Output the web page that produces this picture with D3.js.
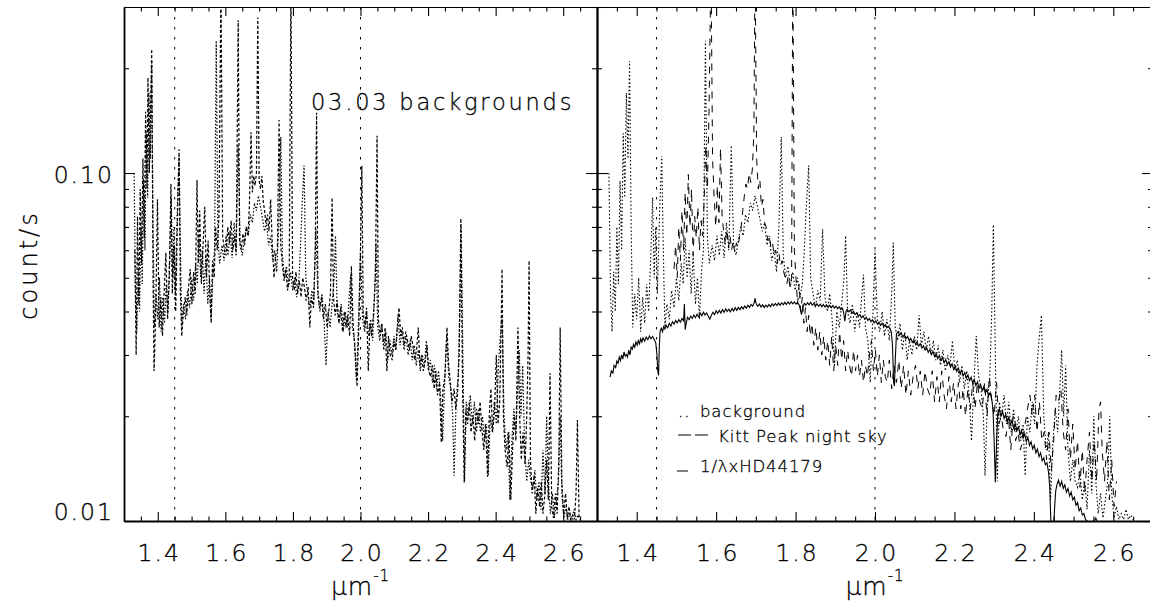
<!DOCTYPE html>
<html><head><meta charset="utf-8">
<script src="https://cdn.jsdelivr.net/npm/d3@7"></script>
<style>
html,body{margin:0;padding:0;background:#fff;overflow:hidden}
svg{display:block}
text{font-family:"DejaVu Sans",sans-serif;font-weight:200;fill:#000;stroke:#000;stroke-width:0.3px}
</style></head><body><svg id="c" width="1150" height="605"></svg>
<script>
// ---- data (wavenumber in µm^-1, count/s) ----
const background = [
[1.330,0.100],[1.334,0.045],[1.338,0.035],[1.342,0.052],[1.346,0.040],[1.350,0.070],[1.354,0.048],[1.358,0.095],[1.362,0.060],[1.366,0.130],
[1.370,0.085],[1.374,0.170],[1.378,0.110],[1.382,0.210],[1.386,0.070],[1.390,0.036],[1.395,0.045],[1.400,0.038],[1.405,0.050],[1.410,0.035],
[1.415,0.044],[1.420,0.037],[1.425,0.048],[1.430,0.040],[1.436,0.060],[1.440,0.085],[1.444,0.050],[1.448,0.070],[1.452,0.045],[1.458,0.080],
[1.463,0.112],[1.467,0.060],[1.471,0.036],[1.476,0.042],[1.482,0.038],[1.488,0.046],[1.494,0.041],[1.500,0.050],[1.506,0.043],[1.512,0.055],
[1.517,0.048],[1.522,0.065],[1.527,0.050],[1.532,0.060],[1.537,0.045],[1.542,0.058],[1.548,0.042],[1.553,0.050],[1.558,0.038],[1.563,0.052],
[1.568,0.060],[1.573,0.240],[1.578,0.065],[1.583,0.055],[1.590,0.062],[1.596,0.056],[1.602,0.066],[1.608,0.058],[1.614,0.068],[1.620,0.057],
[1.626,0.072],[1.632,0.060],[1.638,0.120],[1.644,0.062],[1.650,0.058],[1.656,0.064],[1.662,0.070],[1.668,0.066],[1.674,0.076],[1.680,0.072],
[1.686,0.082],[1.692,0.078],[1.698,0.086],[1.704,0.080],[1.710,0.074],[1.716,0.068],[1.722,0.072],[1.728,0.062],[1.734,0.066],[1.740,0.056],
[1.746,0.060],[1.752,0.052],[1.758,0.070],[1.764,0.127],[1.769,0.058],[1.775,0.050],[1.781,0.054],[1.787,0.047],[1.793,0.052],[1.799,0.046],
[1.805,0.050],[1.811,0.044],[1.817,0.048],[1.822,0.060],[1.827,0.080],[1.833,0.105],[1.838,0.050],[1.844,0.045],[1.850,0.041],[1.856,0.046],
[1.862,0.043],[1.868,0.069],[1.874,0.044],[1.880,0.040],[1.886,0.045],[1.892,0.038],[1.898,0.028],[1.904,0.040],[1.910,0.036],[1.916,0.042],
[1.922,0.050],[1.926,0.066],[1.931,0.040],[1.937,0.037],[1.943,0.042],[1.949,0.035],[1.955,0.040],[1.961,0.036],[1.967,0.045],[1.971,0.051],
[1.976,0.036],[1.982,0.033],[1.988,0.025],[1.994,0.037],[2.000,0.060],[2.006,0.038],[2.012,0.035],[2.018,0.040],[2.024,0.034],[2.030,0.038],
[2.036,0.033],[2.042,0.045],[2.046,0.063],[2.051,0.036],[2.057,0.033],[2.063,0.037],[2.069,0.031],[2.075,0.035],[2.081,0.029],[2.087,0.033],
[2.093,0.030],[2.099,0.034],[2.105,0.031],[2.111,0.039],[2.117,0.032],[2.123,0.035],[2.129,0.031],[2.135,0.034],[2.141,0.030],[2.147,0.033],
[2.153,0.029],[2.159,0.032],[2.165,0.028],[2.171,0.031],[2.177,0.027],[2.183,0.030],[2.189,0.028],[2.195,0.033],[2.201,0.027],[2.207,0.029],
[2.213,0.025],[2.219,0.028],[2.225,0.024],[2.231,0.027],[2.237,0.023],[2.243,0.017],[2.249,0.025],[2.255,0.034],[2.261,0.026],[2.267,0.024],
[2.273,0.020],[2.277,0.0135],[2.283,0.022],[2.289,0.026],[2.294,0.040],[2.298,0.071],[2.303,0.030],[2.308,0.013],[2.313,0.022],[2.319,0.020],
[2.325,0.023],[2.331,0.019],[2.337,0.022],[2.343,0.018],[2.349,0.021],[2.355,0.018],[2.361,0.020],[2.367,0.017],[2.373,0.019],[2.378,0.0135],
[2.384,0.020],[2.390,0.018],[2.396,0.022],[2.402,0.019],[2.408,0.028],[2.413,0.033],[2.419,0.039],[2.425,0.020],[2.431,0.016],[2.437,0.018],
[2.442,0.0115],[2.448,0.017],[2.454,0.021],[2.460,0.018],[2.466,0.025],[2.470,0.031],[2.475,0.020],[2.480,0.028],[2.486,0.016],[2.492,0.013],
[2.498,0.015],[2.504,0.013],[2.510,0.0125],[2.516,0.014],[2.522,0.0115],[2.528,0.013],[2.534,0.0108],[2.540,0.016],[2.546,0.012],[2.551,0.020],
[2.556,0.013],[2.562,0.0105],[2.568,0.012],[2.574,0.0102],[2.580,0.0115],[2.586,0.013],[2.591,0.020],[2.596,0.012],[2.602,0.0102],[2.608,0.011],
[2.614,0.0101],[2.620,0.0105],[2.626,0.0101],[2.632,0.0108],[2.638,0.0101],[2.644,0.0104],[2.650,0.0101]
];
const background2 = [
[1.332,0.060],[1.336,0.030],[1.340,0.075],[1.344,0.042],[1.348,0.090],[1.352,0.055],[1.356,0.110],[1.360,0.065],[1.364,0.150],[1.368,0.090],
[1.371,0.188],[1.375,0.100],[1.379,0.160],[1.382,0.227],[1.386,0.050],[1.389,0.027],[1.394,0.040],[1.399,0.084],[1.404,0.036],[1.409,0.044],
[1.414,0.034],[1.419,0.046],[1.424,0.059],[1.429,0.038],[1.434,0.050],[1.439,0.093],[1.443,0.045],[1.448,0.062],[1.453,0.040],[1.458,0.072],
[1.463,0.117],[1.467,0.045],[1.471,0.034],[1.476,0.040],[1.481,0.044],[1.486,0.039],[1.491,0.047],[1.496,0.053],[1.501,0.042],[1.506,0.052],
[1.511,0.045],[1.516,0.0955],[1.520,0.055],[1.524,0.078],[1.529,0.048],[1.534,0.062],[1.539,0.080],[1.544,0.050],[1.549,0.064],[1.554,0.045],
[1.558,0.037],[1.562,0.056],[1.567,0.050],[1.571,0.070],[1.576,0.060],[1.581,0.075],[1.587,0.350],[1.592,0.066],[1.597,0.060],[1.602,0.058],
[1.607,0.070],[1.612,0.063],[1.617,0.073],[1.622,0.060],[1.627,0.066],[1.632,0.058],[1.638,0.275],[1.642,0.064],[1.647,0.060],[1.652,0.067],
[1.657,0.062],[1.662,0.070],[1.667,0.066],[1.671,0.080],[1.676,0.131],[1.680,0.088],[1.684,0.098],[1.688,0.092],[1.692,0.100],[1.696,0.280],
[1.700,0.095],[1.704,0.090],[1.708,0.098],[1.712,0.083],[1.716,0.078],[1.720,0.072],[1.725,0.076],[1.729,0.068],[1.734,0.084],[1.739,0.062],
[1.744,0.050],[1.749,0.058],[1.754,0.060],[1.759,0.142],[1.764,0.062],[1.769,0.054],[1.774,0.049],[1.779,0.053],[1.784,0.046],[1.789,0.050],
[1.794,0.350],[1.799,0.050],[1.804,0.046],[1.809,0.052],[1.814,0.045],[1.819,0.049],[1.824,0.044],[1.829,0.050],[1.834,0.047],[1.839,0.043],
[1.845,0.047],[1.850,0.036],[1.855,0.044],[1.861,0.041],[1.866,0.060],[1.870,0.149],[1.874,0.046],[1.879,0.041],[1.885,0.044],[1.890,0.038],
[1.896,0.042],[1.901,0.036],[1.906,0.040],[1.911,0.045],[1.916,0.085],[1.920,0.044],[1.925,0.039],[1.931,0.043],[1.936,0.037],[1.941,0.041],
[1.947,0.035],[1.952,0.040],[1.957,0.036],[1.962,0.039],[1.968,0.034],[1.973,0.054],[1.978,0.037],[1.983,0.032],[1.990,0.0243],[1.995,0.036],
[2.000,0.060],[2.004,0.105],[2.008,0.040],[2.013,0.036],[2.018,0.041],[2.023,0.027],[2.028,0.037],[2.033,0.034],[2.038,0.039],[2.044,0.050],
[2.049,0.128],[2.053,0.038],[2.058,0.034],[2.063,0.037],[2.068,0.032],[2.073,0.036],[2.078,0.027],[2.083,0.034],[2.088,0.030],[2.094,0.029],
[2.099,0.033],[2.104,0.031],[2.109,0.036],[2.114,0.041],[2.119,0.034],[2.124,0.036],[2.129,0.032],[2.134,0.035],[2.139,0.033],[2.145,0.031],
[2.150,0.034],[2.155,0.032],[2.160,0.029],[2.166,0.031],[2.171,0.036],[2.176,0.028],[2.181,0.030],[2.186,0.027],[2.192,0.029],[2.197,0.032],
[2.202,0.027],[2.207,0.026],[2.213,0.028],[2.218,0.024],[2.223,0.027],[2.228,0.023],[2.234,0.025],[2.239,0.0168],[2.244,0.024],[2.250,0.026],
[2.256,0.036],[2.261,0.028],[2.266,0.025],[2.271,0.022],[2.277,0.024],[2.282,0.021],[2.287,0.023],[2.292,0.030],[2.297,0.074],[2.302,0.025],
[2.307,0.0129],[2.312,0.021],[2.317,0.019],[2.322,0.022],[2.327,0.018],[2.333,0.020],[2.338,0.017],[2.343,0.021],[2.349,0.019],[2.354,0.022],
[2.360,0.018],[2.365,0.016],[2.370,0.019],[2.376,0.0134],[2.381,0.020],[2.386,0.024],[2.391,0.018],[2.397,0.021],[2.402,0.030],[2.407,0.019],
[2.412,0.022],[2.416,0.035],[2.419,0.053],[2.423,0.020],[2.428,0.016],[2.434,0.0143],[2.439,0.018],[2.445,0.0115],[2.450,0.016],[2.455,0.020],
[2.460,0.017],[2.466,0.036],[2.471,0.020],[2.476,0.015],[2.481,0.018],[2.487,0.0145],[2.492,0.020],[2.496,0.030],[2.499,0.056],[2.503,0.015],
[2.508,0.012],[2.514,0.0135],[2.519,0.0105],[2.524,0.0125],[2.530,0.011],[2.535,0.013],[2.540,0.0105],[2.546,0.012],[2.551,0.015],[2.556,0.0115],
[2.561,0.0266],[2.566,0.011],[2.571,0.0102],[2.577,0.012],[2.582,0.0105],[2.587,0.015],[2.591,0.036],[2.596,0.013],[2.601,0.0105],[2.607,0.012],
[2.612,0.0101],[2.617,0.011],[2.622,0.0101],[2.628,0.0104],[2.633,0.0101],[2.638,0.012],[2.642,0.0195],[2.647,0.0102],[2.652,0.0101]
];
const kittPeak = [
[1.494,0.053],[1.498,0.062],[1.502,0.050],[1.506,0.070],[1.510,0.056],[1.514,0.078],[1.518,0.060],[1.522,0.088],[1.526,0.066],[1.530,0.099],
[1.534,0.070],[1.538,0.090],[1.542,0.058],[1.546,0.075],[1.550,0.065],[1.554,0.080],[1.558,0.060],[1.562,0.073],[1.566,0.066],[1.570,0.085],
[1.574,0.120],[1.578,0.090],[1.582,0.150],[1.587,0.400],[1.591,0.110],[1.595,0.085],[1.599,0.070],[1.603,0.092],[1.607,0.072],[1.611,0.118],
[1.615,0.075],[1.619,0.068],[1.623,0.062],[1.627,0.069],[1.631,0.061],[1.635,0.066],[1.639,0.060],[1.643,0.064],[1.647,0.059],[1.651,0.063],
[1.655,0.061],[1.659,0.066],[1.663,0.070],[1.667,0.078],[1.671,0.086],[1.675,0.093],[1.679,0.090],[1.683,0.100],[1.687,0.094],[1.691,0.102],
[1.695,0.130],[1.698,0.400],[1.702,0.110],[1.706,0.090],[1.710,0.096],[1.714,0.080],[1.718,0.084],[1.722,0.072],[1.726,0.070],[1.730,0.064],
[1.734,0.066],[1.738,0.061],[1.742,0.063],[1.746,0.058],[1.750,0.060],[1.754,0.055],[1.758,0.059],[1.762,0.054],[1.766,0.056],[1.770,0.052],
[1.774,0.050],[1.778,0.048],[1.782,0.051],[1.786,0.047],[1.790,0.050],[1.793,0.400],[1.797,0.060],[1.801,0.050],[1.805,0.042],[1.809,0.048],
[1.813,0.040],[1.817,0.044],[1.821,0.037],[1.825,0.041],[1.829,0.035],[1.833,0.039],[1.837,0.034],[1.841,0.037],[1.846,0.032],[1.851,0.036],
[1.856,0.031],[1.861,0.035],[1.866,0.030],[1.871,0.034],[1.876,0.029],[1.881,0.033],[1.886,0.028],[1.891,0.034],[1.896,0.027],[1.901,0.032],
[1.906,0.028],[1.911,0.035],[1.916,0.029],[1.921,0.033],[1.926,0.027],[1.931,0.031],[1.936,0.028],[1.941,0.026],[1.946,0.031],[1.951,0.027],
[1.956,0.030],[1.961,0.026],[1.966,0.029],[1.971,0.025],[1.976,0.028],[1.981,0.026],[1.986,0.030],[1.991,0.033],[1.996,0.027],[2.001,0.031],
[2.006,0.026],[2.011,0.030],[2.016,0.025],[2.021,0.029],[2.026,0.026],[2.031,0.025],[2.036,0.029],[2.042,0.024],[2.048,0.028],[2.054,0.025],
[2.060,0.029],[2.066,0.024],[2.072,0.028],[2.078,0.023],[2.084,0.027],[2.090,0.023],[2.096,0.026],[2.102,0.028],[2.108,0.024],[2.114,0.027],
[2.120,0.023],[2.126,0.027],[2.132,0.024],[2.138,0.023],[2.144,0.027],[2.150,0.022],[2.156,0.026],[2.162,0.022],[2.168,0.027],[2.174,0.023],
[2.180,0.021],[2.186,0.026],[2.192,0.022],[2.198,0.025],[2.204,0.021],[2.210,0.025],[2.216,0.021],[2.222,0.024],[2.228,0.020],[2.234,0.024],
[2.240,0.021],[2.246,0.025],[2.252,0.021],[2.258,0.025],[2.264,0.022],[2.270,0.021],[2.276,0.025],[2.282,0.020],[2.288,0.026],[2.294,0.022],
[2.300,0.020],[2.306,0.025],[2.312,0.019],[2.318,0.020],[2.324,0.018],[2.330,0.0175],[2.336,0.020],[2.342,0.016],[2.348,0.020],[2.354,0.017],
[2.360,0.018],[2.366,0.016],[2.372,0.017],[2.378,0.019],[2.384,0.021],[2.390,0.023],[2.396,0.020],[2.402,0.023],[2.408,0.018],[2.414,0.022],
[2.420,0.017],[2.426,0.018],[2.432,0.015],[2.438,0.018],[2.444,0.014],[2.450,0.017],[2.456,0.023],[2.462,0.022],[2.468,0.024],[2.474,0.018],
[2.480,0.016],[2.486,0.021],[2.492,0.015],[2.498,0.019],[2.504,0.014],[2.510,0.017],[2.516,0.0125],[2.522,0.016],[2.528,0.012],[2.534,0.015],
[2.540,0.018],[2.546,0.013],[2.552,0.017],[2.558,0.013],[2.564,0.021],[2.568,0.022],[2.572,0.016],[2.578,0.013],[2.584,0.017],[2.590,0.0115],
[2.596,0.015],[2.602,0.011],[2.608,0.013]
];
const hd44179 = [
[1.333,0.0259],[1.336,0.0270],[1.340,0.0266],[1.343,0.0280],[1.347,0.0276],[1.350,0.0288],[1.353,0.0284],[1.356,0.0296],[1.359,0.0289],[1.362,0.0300],
[1.365,0.0292],[1.368,0.0306],[1.371,0.0298],[1.374,0.0301],[1.377,0.0296],[1.380,0.0310],[1.383,0.0300],[1.386,0.0316],[1.389,0.0312],[1.392,0.0322],
[1.395,0.0316],[1.398,0.0327],[1.401,0.0320],[1.404,0.0330],[1.407,0.0323],[1.410,0.0334],[1.413,0.0327],[1.416,0.0336],[1.420,0.0329],[1.424,0.0338],
[1.428,0.0332],[1.432,0.0340],[1.436,0.0334],[1.440,0.0339],[1.444,0.0333],[1.448,0.0325],[1.451,0.0300],[1.453,0.0270],[1.455,0.0262],[1.457,0.0320],
[1.459,0.0352],[1.462,0.0358],[1.465,0.0350],[1.468,0.0362],[1.471,0.0356],[1.474,0.0365],[1.478,0.0359],[1.482,0.0370],[1.486,0.0363],[1.490,0.0374],
[1.494,0.0368],[1.498,0.0377],[1.502,0.0371],[1.506,0.0379],[1.510,0.0373],[1.514,0.0382],[1.518,0.0376],[1.520,0.0420],[1.522,0.0355],[1.525,0.0372],
[1.528,0.0385],[1.532,0.0379],[1.536,0.0388],[1.540,0.0382],[1.544,0.0391],[1.548,0.0384],[1.552,0.0393],[1.556,0.0386],[1.560,0.0396],[1.564,0.0389],
[1.568,0.0398],[1.572,0.0391],[1.576,0.0396],[1.580,0.0388],[1.584,0.0380],[1.588,0.0390],[1.592,0.0398],[1.596,0.0392],[1.600,0.0402],[1.604,0.0395],
[1.608,0.0403],[1.612,0.0396],[1.616,0.0405],[1.620,0.0398],[1.624,0.0407],[1.628,0.0400],[1.632,0.0406],[1.636,0.0399],[1.640,0.0408],[1.644,0.0401],
[1.648,0.0410],[1.652,0.0403],[1.656,0.0411],[1.660,0.0405],[1.664,0.0413],[1.668,0.0407],[1.672,0.0415],[1.676,0.0409],[1.680,0.0417],[1.684,0.0411],
[1.688,0.0419],[1.692,0.0414],[1.696,0.0425],[1.698,0.0436],[1.701,0.0420],[1.705,0.0414],[1.709,0.0420],[1.713,0.0412],[1.717,0.0418],[1.721,0.0411],
[1.725,0.0417],[1.729,0.0412],[1.733,0.0419],[1.737,0.0413],[1.741,0.0421],[1.745,0.0415],[1.749,0.0422],[1.753,0.0416],[1.757,0.0423],[1.761,0.0417],
[1.765,0.0424],[1.769,0.0418],[1.773,0.0425],[1.777,0.0419],[1.781,0.0426],[1.785,0.0420],[1.789,0.0427],[1.793,0.0421],[1.797,0.0426],[1.801,0.0420],
[1.805,0.0425],[1.809,0.0418],[1.812,0.0405],[1.815,0.0392],[1.818,0.0410],[1.822,0.0422],[1.826,0.0417],[1.830,0.0424],[1.834,0.0418],[1.838,0.0425],
[1.842,0.0417],[1.846,0.0422],[1.850,0.0415],[1.854,0.0421],[1.858,0.0414],[1.862,0.0420],[1.866,0.0413],[1.870,0.0419],[1.874,0.0412],[1.878,0.0418],
[1.882,0.0411],[1.886,0.0417],[1.890,0.0410],[1.894,0.0416],[1.898,0.0409],[1.902,0.0414],[1.906,0.0407],[1.910,0.0413],[1.914,0.0405],[1.918,0.0409],
[1.921,0.0398],[1.924,0.0375],[1.927,0.0400],[1.930,0.0406],[1.934,0.0399],[1.938,0.0404],[1.942,0.0396],[1.946,0.0400],[1.950,0.0392],[1.954,0.0396],
[1.958,0.0388],[1.962,0.0392],[1.966,0.0384],[1.970,0.0389],[1.974,0.0380],[1.978,0.0385],[1.982,0.0377],[1.986,0.0382],[1.990,0.0374],[1.994,0.0379],
[1.998,0.0371],[2.002,0.0376],[2.006,0.0368],[2.010,0.0373],[2.014,0.0365],[2.018,0.0370],[2.022,0.0362],[2.026,0.0367],[2.030,0.0359],[2.034,0.0363],
[2.038,0.0356],[2.041,0.0350],[2.044,0.0320],[2.047,0.0250],[2.049,0.0244],[2.051,0.0290],[2.054,0.0345],[2.058,0.0350],[2.062,0.0342],[2.066,0.0347],
[2.070,0.0338],[2.074,0.0343],[2.078,0.0334],[2.082,0.0339],[2.086,0.0330],[2.090,0.0335],[2.094,0.0326],[2.098,0.0331],[2.102,0.0322],[2.106,0.0327],
[2.110,0.0318],[2.114,0.0323],[2.118,0.0314],[2.122,0.0319],[2.126,0.0310],[2.130,0.0315],[2.134,0.0305],[2.138,0.0311],[2.142,0.0301],[2.146,0.0307],
[2.150,0.0297],[2.154,0.0303],[2.158,0.0293],[2.162,0.0299],[2.166,0.0289],[2.170,0.0295],[2.174,0.0285],[2.178,0.0291],[2.182,0.0281],[2.186,0.0287],
[2.190,0.0277],[2.194,0.0283],[2.198,0.0273],[2.202,0.0279],[2.206,0.0269],[2.210,0.0275],[2.214,0.0265],[2.218,0.0271],[2.222,0.0261],[2.226,0.0267],
[2.230,0.0257],[2.234,0.0263],[2.238,0.0253],[2.242,0.0259],[2.246,0.0249],[2.250,0.0255],[2.254,0.0245],[2.258,0.0251],[2.262,0.0241],[2.266,0.0247],
[2.270,0.0237],[2.274,0.0243],[2.278,0.0233],[2.282,0.0239],[2.286,0.0229],[2.290,0.0234],[2.294,0.0224],[2.297,0.0210],[2.300,0.0170],[2.303,0.0129],
[2.306,0.0165],[2.309,0.0203],[2.313,0.0210],[2.317,0.0200],[2.321,0.0207],[2.325,0.0197],[2.329,0.0203],[2.333,0.0193],[2.337,0.0199],[2.341,0.0189],
[2.345,0.0195],[2.349,0.0185],[2.353,0.0191],[2.357,0.0181],[2.361,0.0187],[2.365,0.0177],[2.369,0.0182],[2.373,0.0173],[2.377,0.0178],[2.381,0.0169],
[2.385,0.0174],[2.389,0.0165],[2.393,0.0169],[2.397,0.0161],[2.401,0.0165],[2.405,0.0157],[2.409,0.0161],[2.413,0.0153],[2.417,0.0157],[2.421,0.0149],
[2.425,0.0152],[2.429,0.0145],[2.433,0.0147],[2.437,0.0138],[2.440,0.0125],[2.443,0.0098],[2.446,0.0090],[2.449,0.0093],[2.452,0.0108],[2.455,0.0122],
[2.458,0.0127],[2.462,0.0131],[2.466,0.0126],[2.470,0.0130],[2.474,0.0124],[2.478,0.0127],[2.482,0.0121],[2.486,0.0124],[2.490,0.0118],[2.494,0.0121],
[2.498,0.0115],[2.502,0.0117],[2.506,0.0111],[2.510,0.0113],[2.514,0.0107],[2.518,0.0109],[2.522,0.0104],[2.526,0.0105],[2.530,0.0101],[2.534,0.0100],
[2.540,0.0097],[2.546,0.0096],[2.552,0.0100],[2.556,0.0102],[2.560,0.0099],[2.565,0.0095]
];
const xMajorTicks = [1.4,1.6,1.8,2.0,2.2,2.4,2.6];
const xMinorTicks = [1.35,1.45,1.5,1.55,1.65,1.7,1.75,1.85,1.9,1.95,2.05,2.1,2.15,2.25,2.3,2.35,2.45,2.5,2.55,2.65];
const yMajorTicks = [0.01,0.1];
const yMajorLabels = ["0.01","0.10"];
const yMinorTicks = [0.02,0.03,0.04,0.05,0.06,0.07,0.08,0.09,0.2,0.3];
const refLines = [1.45,2.0];
const legendLabels = ["background","Kitt Peak night sky","1/λxHD44179"];
const titleText = "03.03 backgrounds";
const yTitle = "count/s";

// ---- layout ----
const svg = d3.select("#c");
const plotTop = 7, plotBot = 521;
const y = d3.scaleLog().domain([0.01,0.3]).range([plotBot, plotTop]);
const xL = d3.scaleLinear().domain([1.3,2.7]).range([124,597]);
const xR = d3.scaleLinear().domain([1.3,2.7]).range([597,1153]);

const defs = svg.append("defs");
function clip(id, x){
  defs.append("clipPath").attr("id",id).append("rect")
    .attr("x",x.range()[0]).attr("y",plotTop).attr("width",x.range()[1]-x.range()[0]).attr("height",plotBot-plotTop);
}
clip("cl",xL); clip("cr",xR);

function series(g, x, data, dash, sw){
  const line = d3.line().x(d=>x(d[0])).y(d=>y(d[1]));
  g.append("path").datum(data).attr("d",line).attr("fill","none")
   .attr("stroke","#000").attr("stroke-width",sw||1)
   .attr("stroke-dasharray",dash||null);
}
function refs(g, x){
  refLines.forEach(v=>{
    g.append("line").attr("x1",x(v)).attr("x2",x(v)).attr("y1",plotTop).attr("y2",plotBot)
     .attr("stroke","#000").attr("stroke-width",1).attr("stroke-dasharray","2.5,7.5");
  });
}
function axes(x, labelled){
  const g = svg.append("g");
  const fsz = 23.5;
  const b = g.append("g").attr("transform",`translate(0,${plotBot})`)
    .call(d3.axisBottom(x).tickValues(xMajorTicks).tickSizeInner(-9).tickSizeOuter(0).tickPadding(23).tickFormat(d3.format(".1f")));
  b.select(".domain").attr("stroke-width",1.8);
  b.selectAll("text").attr("font-size",fsz).attr("font-family","DejaVu Sans").attr("letter-spacing","2px").attr("dx","1px");
  g.append("g").attr("transform",`translate(0,${plotBot})`)
    .call(d3.axisBottom(x).tickValues(xMinorTicks).tickSizeInner(-4.5).tickSizeOuter(0).tickFormat(""))
    .select(".domain").remove();
  const t = g.append("g").attr("transform",`translate(0,${plotTop})`)
    .call(d3.axisTop(x).tickValues(xMajorTicks).tickSizeInner(-9).tickSizeOuter(0).tickFormat(""));
  t.select(".domain").attr("stroke-width",1.2);
  g.append("g").attr("transform",`translate(0,${plotTop})`)
    .call(d3.axisTop(x).tickValues(xMinorTicks).tickSizeInner(-4.5).tickSizeOuter(0).tickFormat(""))
    .select(".domain").remove();
  const x0 = x.range()[0], x1 = x.range()[1];
  const l = g.append("g").attr("transform",`translate(${x0},0)`)
    .call(d3.axisLeft(y).tickValues(yMajorTicks).tickSizeInner(-11).tickSizeOuter(0).tickPadding(10)
      .tickFormat(labelled ? ((d,i)=>yMajorLabels[i]) : ""));
  l.select(".domain").attr("stroke-width",1.8);
  l.selectAll("text").attr("font-size",fsz).attr("font-family","DejaVu Sans").attr("letter-spacing","2px")
    .attr("dy",(d,i)=> i===0 ? "-0.05em" : "0.42em");
  g.append("g").attr("transform",`translate(${x0},0)`)
    .call(d3.axisLeft(y).tickValues(yMinorTicks).tickSizeInner(-5).tickSizeOuter(0).tickFormat(""))
    .select(".domain").remove();
  const r = g.append("g").attr("transform",`translate(${x1},0)`)
    .call(d3.axisRight(y).tickValues(yMajorTicks).tickSizeInner(-11).tickSizeOuter(0).tickFormat(""));
  r.select(".domain").attr("stroke-width",1.8);
  g.append("g").attr("transform",`translate(${x1},0)`)
    .call(d3.axisRight(y).tickValues(yMinorTicks).tickSizeInner(-5).tickSizeOuter(0).tickFormat(""))
    .select(".domain").remove();
  g.selectAll(".tick line").attr("stroke-width",1.1);
  const cx = (x0 + x1)/2;
  const xt = g.append("text").attr("x",cx).attr("y",595).attr("text-anchor","middle")
    .attr("font-size",25).attr("letter-spacing","1px");
  xt.append("tspan").text("μ");
  xt.append("tspan").text("m");
  xt.append("tspan").attr("font-size",15).attr("dy",-14).text("-1");
}

// ---- left panel ----
const gl = svg.append("g").attr("clip-path","url(#cl)");
refs(gl, xL);
series(gl, xL, background2, "3,2", 1.2);
series(gl, xL, background, "1.5,1.8", 1.2);
axes(xL, true);
svg.append("text").attr("x",311).attr("y",110).attr("font-size",22.5).attr("letter-spacing","2.8px").text(titleText);
svg.append("text").attr("transform","translate(37,265) rotate(-90)").attr("text-anchor","middle")
  .attr("font-size",24).attr("letter-spacing","3px").text(yTitle);

// ---- right panel ----
const gr = svg.append("g").attr("clip-path","url(#cr)");
refs(gr, xR);
series(gr, xR, background, "1.5,2.2", 1.1);
series(gr, xR, kittPeak, "7,7", 1);
series(gr, xR, hd44179, null, 1.1);
axes(xR, false);

// legend
const legY = [417, 442, 472];
const legTextX = [700, 718, 700];
svg.append("text").attr("x",678).attr("y",legY[0]).attr("font-size",16.5).attr("letter-spacing","1px").text("..");
svg.append("line").attr("x1",678).attr("x2",708).attr("y1",435).attr("y2",435).attr("stroke","#000").attr("stroke-width",1).attr("stroke-dasharray","13,4");
svg.append("line").attr("x1",677).attr("x2",688).attr("y1",471).attr("y2",471).attr("stroke","#000").attr("stroke-width",1);
legendLabels.forEach((lab,i)=>{
  svg.append("text").attr("x",legTextX[i]).attr("y",legY[i]).attr("font-size",16.5).attr("letter-spacing","0.9px").text(lab);
});
</script></body></html>
